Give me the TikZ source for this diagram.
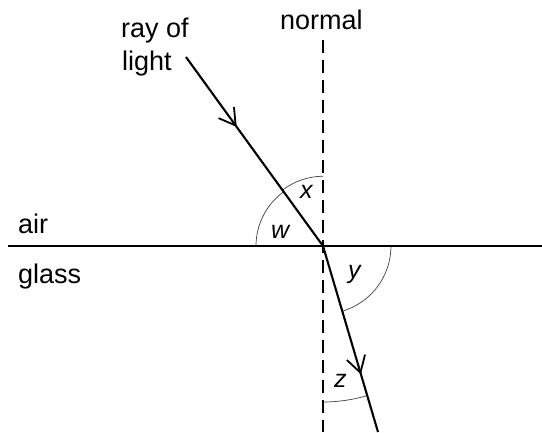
\documentclass[tikz,border=0pt]{standalone}
\usepackage{fontspec}
\setmainfont{Liberation Sans}
\usetikzlibrary{arrows.meta,decorations.markings}
\begin{document}
\begin{tikzpicture}[x=1pt,y=-1pt,
  lbl/.style={font=\fontsize{27}{30}\selectfont, inner sep=0pt},
  ang/.style={font=\fontsize{25}{27}\selectfont\itshape, inner sep=0pt},
  ray/.style={line width=2.1pt},
  arc/.style={line width=0.7pt, black!75},
  midarrow/.style={postaction={decorate, decoration={markings,
     mark=at position #1 with {\arrow{Straight Barb[length=16pt,width=19pt,line width=1.8pt]}}}}}]
\useasboundingbox (0,0) rectangle (542,432);
\coordinate (O) at (323,246);
\coordinate (A) at (186,57);
\coordinate (B) at (378,432);
\coordinate (L) at (8,246);
\coordinate (R) at (542,246);
\coordinate (NT) at (323,40);
\coordinate (NB) at (323,432);
% arcs
\draw[arc] (O) ++(-125.9:69) arc[start angle=-125.9, end angle=-90, x radius=69, y radius=73];
\draw[arc] (O) ++(180:67) arc[start angle=180, end angle=234.1, radius=67];
\draw[arc] (O) ++(0:68) arc[start angle=0, end angle=73.5, radius=68];
\draw[arc] (O) ++(90:156) arc[start angle=90, end angle=73.5, radius=156];
% lines
\draw[line width=2.7pt] (L) -- (R);
\draw[line width=2.8pt, dash pattern=on 13pt off 7pt] (NT) -- (NB);
\draw[ray, midarrow=0.37] (A) -- (O);
\draw[ray, midarrow=0.69] (O) -- (B);
% labels
\node[lbl, anchor=base west] (rl1) at (121,37) {ray of};
\node[lbl, anchor=base west] (rl2) at (122,70) {light};
\node[lbl, anchor=base west] (nm) at (280,29) {normal};
\node[lbl, anchor=base west] (air) at (18,233) {air};
\node[lbl, anchor=base west] (gl) at (18,283) {glass};
\node[ang, anchor=base west] (x) at (300,198) {x};
\node[ang, anchor=base west] (w) at (271,238) {w};
\node[ang, anchor=base west] (y) at (348,278) {y};
\node[ang, anchor=base west] (z) at (334,387) {z};
\end{tikzpicture}
\end{document}
